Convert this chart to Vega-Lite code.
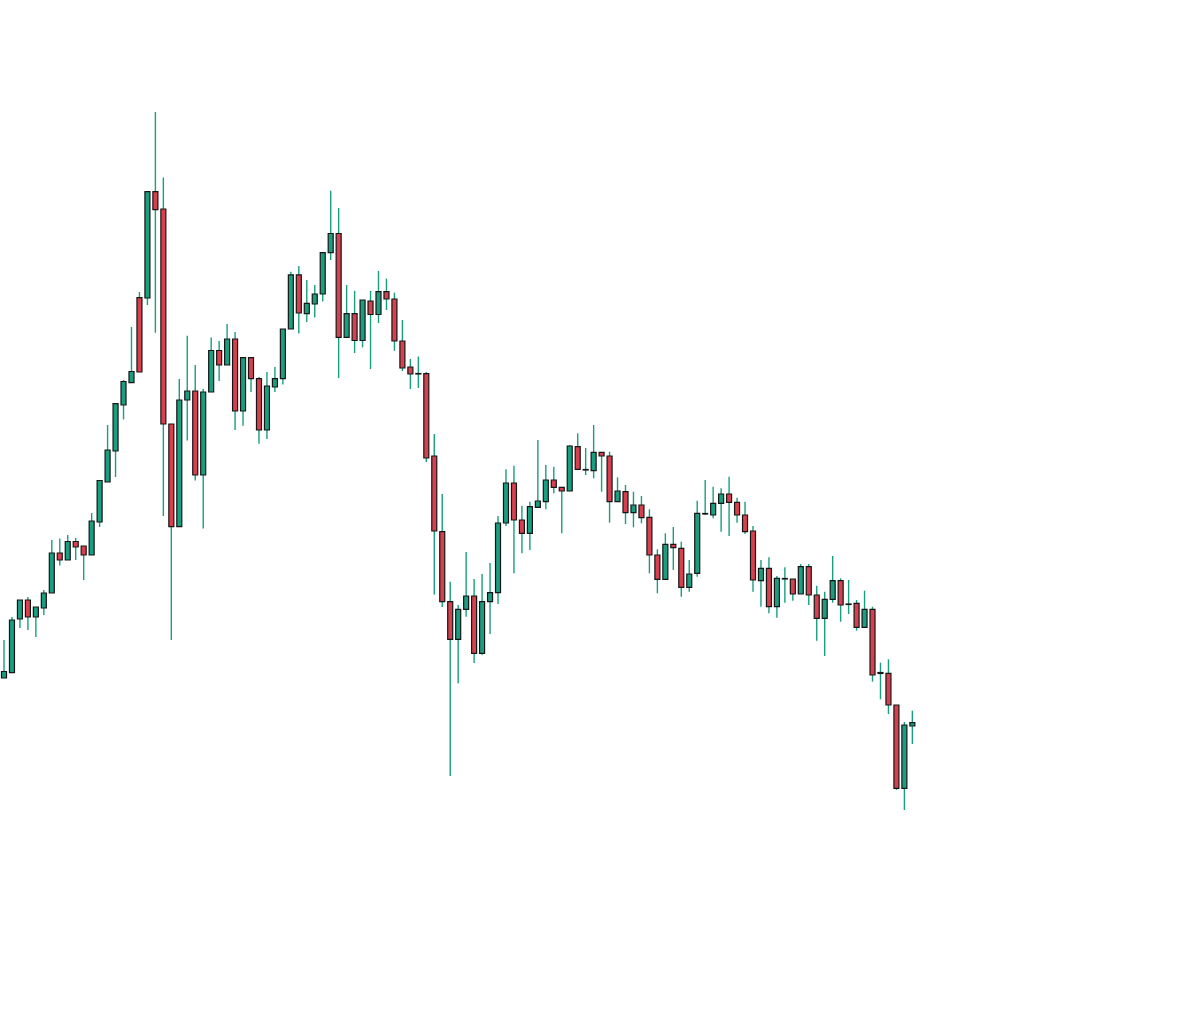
{
  "$schema": "https://vega.github.io/schema/vega-lite/v6.json",
  "width": 1200,
  "height": 1011,
  "autosize": {"type": "fit", "contains": "padding"},
  "padding": 0,
  "background": "#ffffff",
  "config": {"view": {"stroke": null}},
  "data": {
    "values": [
      {"i": 0, "o": 333, "h": 371, "l": 333, "c": 339.5},
      {"i": 1, "o": 338.4, "h": 394, "l": 338, "c": 391},
      {"i": 2, "o": 392, "h": 411, "l": 383, "c": 411},
      {"i": 3, "o": 411, "h": 414, "l": 381, "c": 394},
      {"i": 4, "o": 394, "h": 404, "l": 374, "c": 404},
      {"i": 5, "o": 403, "h": 421, "l": 396, "c": 418},
      {"i": 6, "o": 418, "h": 471, "l": 418, "c": 458},
      {"i": 7, "o": 458, "h": 472.5, "l": 445.5, "c": 451},
      {"i": 8, "o": 451, "h": 476, "l": 451, "c": 469.5},
      {"i": 9, "o": 469.5, "h": 473, "l": 451, "c": 464},
      {"i": 10, "o": 465, "h": 465, "l": 431, "c": 456},
      {"i": 11, "o": 456, "h": 498, "l": 456, "c": 490},
      {"i": 12, "o": 489, "h": 531, "l": 484, "c": 530.5},
      {"i": 13, "o": 529, "h": 586, "l": 529, "c": 561},
      {"i": 14, "o": 560, "h": 608, "l": 534, "c": 607.4},
      {"i": 15, "o": 606, "h": 631, "l": 591.5, "c": 629.5},
      {"i": 16, "o": 628.4, "h": 684, "l": 628, "c": 639.5},
      {"i": 17, "o": 713.4, "h": 719, "l": 639, "c": 639},
      {"i": 18, "o": 713, "h": 820, "l": 706, "c": 819.4},
      {"i": 19, "o": 819.4, "h": 899, "l": 678.3, "c": 801.3},
      {"i": 20, "o": 802, "h": 833.4, "l": 495, "c": 587},
      {"i": 21, "o": 587, "h": 587, "l": 371, "c": 484.3},
      {"i": 22, "o": 484.3, "h": 632, "l": 484, "c": 611},
      {"i": 23, "o": 611, "h": 675.3, "l": 570.4, "c": 620},
      {"i": 24, "o": 620, "h": 646, "l": 530.5, "c": 536},
      {"i": 25, "o": 536, "h": 622, "l": 482.5, "c": 619},
      {"i": 26, "o": 619, "h": 673.5, "l": 619, "c": 660.5},
      {"i": 27, "o": 660.5, "h": 670, "l": 630, "c": 646},
      {"i": 28, "o": 646, "h": 687, "l": 646, "c": 672},
      {"i": 29, "o": 672, "h": 679, "l": 581, "c": 600},
      {"i": 30, "o": 600, "h": 653.3, "l": 585.3, "c": 653.3},
      {"i": 31, "o": 653.3, "h": 654, "l": 619, "c": 632.3},
      {"i": 32, "o": 632.3, "h": 634, "l": 567.3, "c": 581},
      {"i": 33, "o": 581, "h": 639, "l": 572, "c": 625},
      {"i": 34, "o": 624, "h": 644, "l": 619, "c": 632.3},
      {"i": 35, "o": 632.3, "h": 682, "l": 626.6, "c": 682},
      {"i": 36, "o": 682, "h": 739.3, "l": 682, "c": 736.2},
      {"i": 37, "o": 736.2, "h": 745, "l": 677.4, "c": 698},
      {"i": 38, "o": 697.3, "h": 731, "l": 689, "c": 707.6},
      {"i": 39, "o": 707, "h": 726, "l": 693.4, "c": 717},
      {"i": 40, "o": 717, "h": 758.4, "l": 709.5, "c": 758.4},
      {"i": 41, "o": 758.4, "h": 820.3, "l": 751, "c": 777.5},
      {"i": 42, "o": 777.5, "h": 803, "l": 633, "c": 673.6},
      {"i": 43, "o": 673.6, "h": 726, "l": 673.6, "c": 697.3},
      {"i": 44, "o": 697.3, "h": 720.2, "l": 658, "c": 670.5},
      {"i": 45, "o": 670.5, "h": 711, "l": 663.6, "c": 711},
      {"i": 46, "o": 710, "h": 720.2, "l": 642, "c": 696.5},
      {"i": 47, "o": 696.5, "h": 740, "l": 688, "c": 719.4},
      {"i": 48, "o": 719.4, "h": 732.4, "l": 701, "c": 712},
      {"i": 49, "o": 712, "h": 718.3, "l": 660.2, "c": 670},
      {"i": 50, "o": 670, "h": 691, "l": 640, "c": 643},
      {"i": 51, "o": 644, "h": 652, "l": 622, "c": 637},
      {"i": 52, "o": 637.5, "h": 654.5, "l": 623, "c": 637},
      {"i": 53, "o": 637.3, "h": 639, "l": 549, "c": 553},
      {"i": 54, "o": 555, "h": 577, "l": 416.4, "c": 480},
      {"i": 55, "o": 479.3, "h": 517, "l": 404, "c": 409.3},
      {"i": 56, "o": 409.3, "h": 429.3, "l": 235, "c": 371.7},
      {"i": 57, "o": 371.7, "h": 406, "l": 327.7, "c": 401.7},
      {"i": 58, "o": 401.7, "h": 459, "l": 394.3, "c": 415},
      {"i": 59, "o": 415, "h": 432, "l": 348, "c": 357.7},
      {"i": 60, "o": 357.7, "h": 437, "l": 356, "c": 409.3},
      {"i": 61, "o": 409.3, "h": 448, "l": 377, "c": 418.3},
      {"i": 62, "o": 418.3, "h": 495, "l": 407, "c": 488},
      {"i": 63, "o": 488, "h": 541.7, "l": 485, "c": 528},
      {"i": 64, "o": 528, "h": 545.3, "l": 437.7, "c": 491},
      {"i": 65, "o": 491, "h": 505.3, "l": 457.7, "c": 477.7},
      {"i": 66, "o": 477.7, "h": 509.3, "l": 461, "c": 504.3},
      {"i": 67, "o": 503.7, "h": 571, "l": 503.7, "c": 510},
      {"i": 68, "o": 509.3, "h": 546, "l": 501.7, "c": 531},
      {"i": 69, "o": 531, "h": 544.3, "l": 517.7, "c": 523.7},
      {"i": 70, "o": 523.7, "h": 523.7, "l": 477.7, "c": 520},
      {"i": 71, "o": 520, "h": 566, "l": 520, "c": 565},
      {"i": 72, "o": 564.3, "h": 577.7, "l": 541.7, "c": 541.7},
      {"i": 73, "o": 541.5, "h": 563, "l": 536, "c": 541},
      {"i": 74, "o": 540.3, "h": 586, "l": 532.7, "c": 558.7},
      {"i": 75, "o": 558.7, "h": 558.7, "l": 519.3, "c": 555},
      {"i": 76, "o": 555, "h": 559.3, "l": 488.3, "c": 509.3},
      {"i": 77, "o": 509.3, "h": 533.7, "l": 509.3, "c": 520},
      {"i": 78, "o": 519.3, "h": 526, "l": 487, "c": 498.3},
      {"i": 79, "o": 498.3, "h": 519.3, "l": 483.7, "c": 506},
      {"i": 80, "o": 506, "h": 515, "l": 487.7, "c": 493.3},
      {"i": 81, "o": 493.7, "h": 501.7, "l": 437.7, "c": 456},
      {"i": 82, "o": 456, "h": 461.7, "l": 417.7, "c": 431.7},
      {"i": 83, "o": 431.7, "h": 477.7, "l": 431.7, "c": 466.7},
      {"i": 84, "o": 466.7, "h": 484, "l": 441, "c": 463.3},
      {"i": 85, "o": 462.7, "h": 469.3, "l": 414.3, "c": 423.7},
      {"i": 86, "o": 423.7, "h": 451, "l": 419.3, "c": 437},
      {"i": 87, "o": 437.7, "h": 510.3, "l": 434.3, "c": 497.7},
      {"i": 88, "o": 497.5, "h": 531, "l": 496, "c": 497},
      {"i": 89, "o": 496, "h": 524.3, "l": 492.7, "c": 507.7},
      {"i": 90, "o": 507.7, "h": 522.7, "l": 479.3, "c": 517},
      {"i": 91, "o": 517, "h": 534.3, "l": 475, "c": 508.7},
      {"i": 92, "o": 508.7, "h": 513.3, "l": 488.3, "c": 496},
      {"i": 93, "o": 496, "h": 509.3, "l": 477, "c": 479.3},
      {"i": 94, "o": 480, "h": 485, "l": 419.3, "c": 431},
      {"i": 95, "o": 430.3, "h": 451, "l": 404.3, "c": 442.7},
      {"i": 96, "o": 442.7, "h": 453.7, "l": 397.7, "c": 404.3},
      {"i": 97, "o": 404.3, "h": 435, "l": 393.3, "c": 432.7},
      {"i": 98, "o": 432.5, "h": 443.7, "l": 408.3, "c": 432},
      {"i": 99, "o": 432, "h": 432, "l": 410.3, "c": 417},
      {"i": 100, "o": 417, "h": 447, "l": 417, "c": 444.3},
      {"i": 101, "o": 444.3, "h": 447, "l": 406, "c": 416},
      {"i": 102, "o": 416, "h": 425.3, "l": 370.3, "c": 392.7},
      {"i": 103, "o": 392.7, "h": 419.3, "l": 355, "c": 411.7},
      {"i": 104, "o": 411.7, "h": 455, "l": 408.3, "c": 430.3},
      {"i": 105, "o": 430.3, "h": 432.7, "l": 389.3, "c": 406},
      {"i": 106, "o": 407, "h": 431, "l": 397, "c": 406.5},
      {"i": 107, "o": 407.7, "h": 411, "l": 380.3, "c": 383.7},
      {"i": 108, "o": 383.7, "h": 420.3, "l": 383.7, "c": 401.7},
      {"i": 109, "o": 401.7, "h": 404.3, "l": 329.3, "c": 336},
      {"i": 110, "o": 337.5, "h": 348.3, "l": 311.7, "c": 338.5},
      {"i": 111, "o": 337.7, "h": 351.7, "l": 297, "c": 306},
      {"i": 112, "o": 306, "h": 306, "l": 221, "c": 222.7},
      {"i": 113, "o": 222.7, "h": 289, "l": 201, "c": 286},
      {"i": 114, "o": 285, "h": 300.3, "l": 267, "c": 288.3}
    ]
  },
  "encoding": {
    "x": {
      "field": "i",
      "type": "quantitative",
      "scale": {"domain": [-0.502, 150.1], "nice": false, "zero": false, "padding": 0},
      "axis": null
    }
  },
  "layer": [
    {
      "mark": {"type": "rule", "color": "#1a9e80", "strokeWidth": 1.4},
      "encoding": {
        "y": {
          "field": "l",
          "type": "quantitative",
          "scale": {"domain": [0, 1011], "nice": false, "zero": false},
          "axis": null
        },
        "y2": {"field": "h"}
      }
    },
    {
      "mark": {"type": "bar", "size": 5, "stroke": "#161616", "strokeWidth": 1.2, "opacity": 1},
      "encoding": {
        "y": {
          "field": "o",
          "type": "quantitative",
          "scale": {"domain": [0, 1011], "nice": false, "zero": false},
          "axis": null
        },
        "y2": {"field": "c"},
        "fill": {
          "condition": {"test": "datum.o < datum.c", "value": "#1a9e80"},
          "value": "#d6404f"
        }
      }
    }
  ]
}
